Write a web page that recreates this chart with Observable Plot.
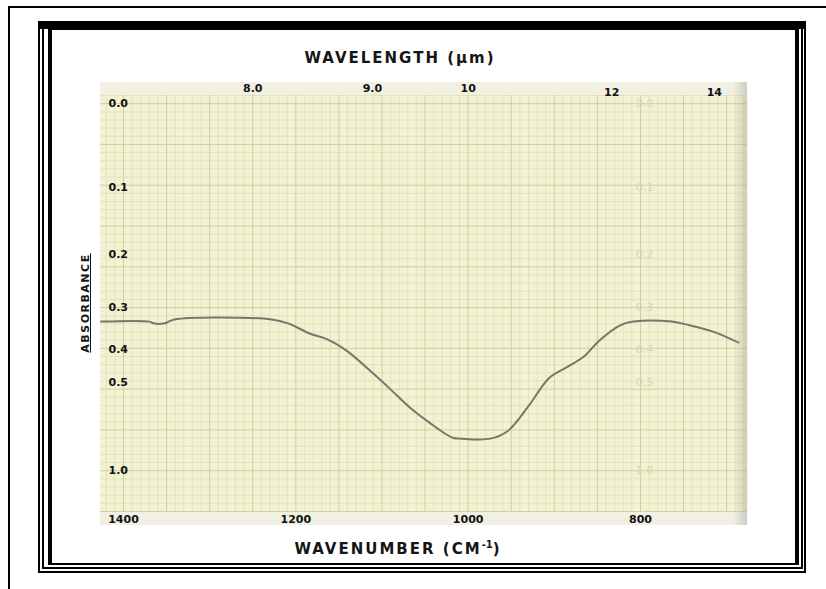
<!DOCTYPE html>
<html>
<head>
<meta charset="utf-8">
<script src="https://cdn.jsdelivr.net/npm/d3@7"></script>
<script src="https://cdn.jsdelivr.net/npm/@observablehq/plot@0.6"></script>
<style>
  body { margin: 0; background: #fff; }
  #page { position: relative; width: 826px; height: 589px; overflow: hidden; background: #fff;
          font-family: "DejaVu Sans", Verdana, sans-serif; color: #151515; }
  .box { position: absolute; box-sizing: border-box; border-style: solid; border-color: #000; }
  #outer { left: 8px; top: 6px; width: 900px; height: 700px; border-width: 2px 0 0 2px; }
  #f1 { left: 38px; top: 21px; width: 768px; height: 552px; border-width: 2px; }
  #f2 { left: 42px; top: 24px; width: 761px; height: 545px; border-width: 2px; }
  #f3 { left: 48px; top: 27px; width: 751px; height: 538px; border-width: 3px 4px 2px 4px; }
  #band { position: absolute; left: 38px; top: 21px; width: 768px; height: 8px; background: #000; }
  #paper { position: absolute; left: 100px; top: 82px; width: 647px; height: 443px; background: #f1f0e3; }
  #chart { position: absolute; left: 100px; top: 82px; }
  #shade { position: absolute; left: 733px; top: 82px; width: 14px; height: 443px;
           background: linear-gradient(to right, rgba(170,170,160,0), rgba(170,170,160,0.5)); }
  .title { position: absolute; text-align: center; font-weight: bold; font-size: 15px;
           letter-spacing: 2px; line-height: 18px; white-space: nowrap; }
  #top-title { left: 250px; width: 300px; top: 49px; }
  #bottom-title { left: 248px; width: 300px; top: 536px; }
  #bottom-title sup { font-size: 10px; vertical-align: 6px; letter-spacing: 0; }
  #y-title { position: absolute; left: 26px; top: 297px; width: 120px; text-align: center;
             font-weight: bold; font-size: 11px; letter-spacing: 1.5px; line-height: 12px;
             text-decoration: underline; transform: rotate(-90deg); }
</style>
</head>
<body>
<div id="page">
  <div id="outer" class="box"></div>
  <div id="f1" class="box"></div>
  <div id="f2" class="box"></div>
  <div id="f3" class="box"></div>
  <div id="band"></div>
  <div id="top-title" class="title">WAVELENGTH (µm)</div>
  <div id="bottom-title" class="title">WAVENUMBER (CM<sup>-1</sup>)</div>
  <div id="y-title">ABSORBANCE</div>
  <div id="paper"></div>
  <div id="chart"></div>
  <div id="shade"></div>
</div>
<script>
// Spectrum trace: wavenumber (cm-1) and absorbance
const wavenumber = [1426, 1370, 1365, 1352, 1341, 1228, 1209, 1184, 1164, 1140, 1116, 1091,
                    1067, 1043, 1018, 1008, 974, 954, 930, 906, 886, 866, 848, 823, 808,
                    764, 744, 715, 686];
const absorbance = [0.332, 0.332, 0.336, 0.336, 0.327, 0.327, 0.336, 0.360, 0.374, 0.406,
                    0.457, 0.521, 0.596, 0.668, 0.743, 0.748, 0.748, 0.705, 0.588, 0.485,
                    0.452, 0.421, 0.378, 0.340, 0.332, 0.332, 0.340, 0.356, 0.383];

// Axis tick values
const wavenumberTicks = [1400, 1200, 1000, 800];
const wavelengthTicks = [8.0, 9.0, 10, 12, 14];
const wavelengthLabels = ["8.0", "9.0", "10", "12", "14"];
const absorbanceTicks = [0.0, 0.1, 0.2, 0.3, 0.4, 0.5, 1.0];

const spectrum = wavenumber.map((w, i) => ({w, a: absorbance[i]}));
const toT = a => Math.pow(10, -a);   // chart paper is linear in transmittance

// Chart-paper rulings: every 10 cm-1 across, every 2 %T down
const vLines = d3.range(680, 1430, 10);
const hLines = d3.range(0, 52).map(i => i / 50);

const gridBg = "#f3f2d3";
const minor = "#e2e3c0";
const major = "#cdd1a0";
const labelFont = {fontWeight: "bold", fontSize: 11, fill: "#111", stroke: "none"};

const chart = Plot.plot({
  width: 647,
  height: 443,
  marginLeft: 0,
  marginRight: 0,
  marginTop: 13,
  marginBottom: 14,
  x: {domain: [1426.7, 675.8], axis: null},
  y: {domain: [0, 1.02], axis: null},
  style: {background: "transparent", fontFamily: "DejaVu Sans, Verdana, sans-serif", overflow: "visible"},
  marks: [
    Plot.frame({fill: gridBg, stroke: null}),
    Plot.ruleX(vLines.filter(v => v % 50 !== 0), {x: d => d, stroke: minor, strokeWidth: 1}),
    Plot.ruleY(hLines.filter((v, i) => i % 5 !== 0), {y: d => d, stroke: minor, strokeWidth: 1}),
    Plot.ruleX(vLines.filter(v => v % 50 === 0), {x: d => d, stroke: major, strokeWidth: 1}),
    Plot.ruleY(hLines.filter((v, i) => i % 5 === 0), {y: d => d, stroke: major, strokeWidth: 1}),
    // faint reverse-side absorbance scale
    Plot.text(absorbanceTicks, {x: () => 795, y: toT, text: a => a.toFixed(1),
      fontSize: 11, fill: "#d6d6b2", letterSpacing: 1}),
    // spectrum
    Plot.line(spectrum, {x: "w", y: d => toT(d.a), stroke: "#76766a", strokeWidth: 2,
      curve: "catmull-rom"}),
    // absorbance labels
    Plot.text(absorbanceTicks, {y: toT, text: a => a.toFixed(1), frameAnchor: "left",
      dx: 8, textAnchor: "start", ...labelFont}),
    // wavenumber labels
    Plot.text(wavenumberTicks, {x: d => d, y: () => 0, dy: 8, text: d => String(d), ...labelFont}),
    // wavelength labels (µm)
    Plot.text(wavelengthTicks.slice(0, 3), {x: d => 10000 / d, y: () => 1.02, dy: -7,
      text: (d, i) => wavelengthLabels[i], ...labelFont}),
    Plot.text(wavelengthTicks.slice(3), {x: d => 10000 / d, y: () => 1.02, dy: -3,
      text: (d, i) => wavelengthLabels[i + 3], ...labelFont})
  ]
});
document.getElementById("chart").append(chart);
</script>
</body>
</html>
